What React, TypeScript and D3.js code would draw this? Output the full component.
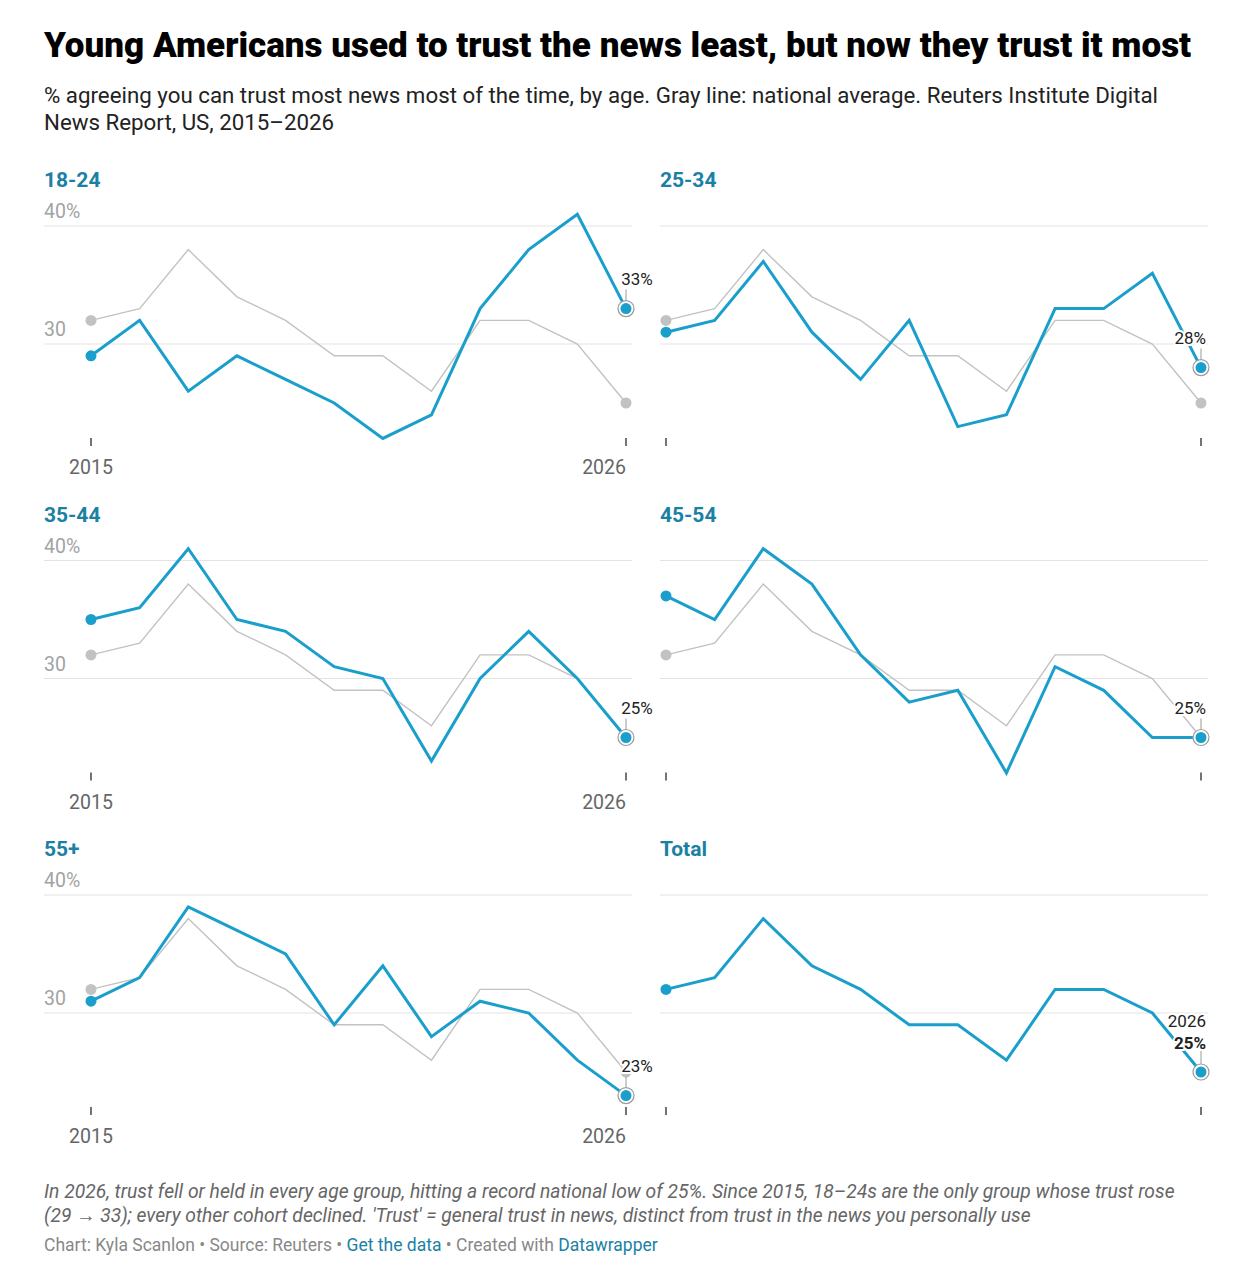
import React from "react";
import * as d3 from "d3";

const years = [2015, 2016, 2017, 2018, 2019, 2020, 2021, 2022, 2023, 2024, 2025, 2026];
const national = [32, 33, 38, 34, 32, 29, 29, 26, 32, 32, 30, 25];
const age18_24 = [29, 32, 26, 29, 27, 25, 22, 24, 33, 38, 41, 33];
const age25_34 = [31, 32, 37, 31, 27, 32, 23, 24, 33, 33, 36, 28];
const age35_44 = [35, 36, 41, 35, 34, 31, 30, 23, 30, 34, 30, 25];
const age45_54 = [37, 35, 41, 38, 32, 28, 29, 22, 31, 29, 25, 25];
const age55plus = [31, 33, 39, 37, 35, 29, 34, 28, 31, 30, 26, 23];
const totalSeries = [32, 33, 38, 34, 32, 29, 29, 26, 32, 32, 30, 25];
const panelNames = ["18-24", "25-34", "35-44", "45-54", "55+", "Total"];
const panelSeries = [age18_24, age25_34, age35_44, age45_54, age55plus, totalSeries];
const yTicks = [40, 30];

const BLUE = "#1a9fcc";
const TITLE_BLUE = "#1a81a5";
const GRAY = "#c2c2c2";
const FONT = "Roboto, 'Noto Sans', sans-serif";

const cols = [
  { gx0: 44, gx1: 632, px0: 91, px1: 626 },
  { gx0: 660, gx1: 1208, px0: 666, px1: 1201 },
];

const y = d3.scaleLinear().domain([30, 40]).range([118, 0]);

function Panel({ idx }: { idx: number }) {
  const col = idx % 2;
  const row = Math.floor(idx / 2);
  const c = cols[col];
  const top = 226 + row * 334.5;
  const x = d3.scaleLinear().domain([2015, 2026]).range([c.px0, c.px1]);
  const series = panelSeries[idx];
  const isTotal = panelNames[idx] === "Total";
  const line = d3
    .line<number>()
    .x((_, i) => x(years[i]))
    .y((v) => y(v));
  const last = series.length - 1;
  const lx = x(years[last]);
  const ly = y(series[last]);
  const halo = { paintOrder: "stroke" as const, stroke: "#fff", strokeWidth: 4, strokeLinejoin: "round" as const };
  return (
    <g transform={`translate(0,${top})`}>
      <text x={c.gx0} y={-39} fontSize={21} fontWeight={700} fill={TITLE_BLUE}>
        {panelNames[idx]}
      </text>
      {yTicks.map((t) => (
        <g key={t}>
          <line x1={c.gx0} x2={c.gx1} y1={y(t)} y2={y(t)} stroke="#e3e3e3" strokeWidth={1} />
          {col === 0 && (
            <text x={c.gx0} y={y(t) - 8} fontSize={19.5} fill="#a3a3a3">
              {t === 40 ? "40%" : String(t)}
            </text>
          )}
        </g>
      ))}
      {[2015, 2026].map((yr, k) => (
        <g key={yr}>
          <line x1={x(yr)} x2={x(yr)} y1={212} y2={220} stroke="#444" strokeWidth={1.5} />
          {col === 0 && (
            <text x={x(yr)} y={248} fontSize={19.5} fill="#666" textAnchor={k === 0 ? "middle" : "end"}>
              {yr}
            </text>
          )}
        </g>
      ))}
      {!isTotal && (
        <g>
          <path d={line(national) || ""} fill="none" stroke={GRAY} strokeWidth={1.4} />
          <circle cx={x(years[0])} cy={y(national[0])} r={5.5} fill={GRAY} />
          <circle cx={x(years[last])} cy={y(national[last])} r={5.5} fill={GRAY} />
        </g>
      )}
      <path d={line(series) || ""} fill="none" stroke={BLUE} strokeWidth={3} strokeLinejoin="miter" />
      <circle cx={x(years[0])} cy={y(series[0])} r={5.5} fill={BLUE} />
      <circle cx={lx} cy={ly} r={8} fill="#fff" stroke="#9a9a9a" strokeWidth={1.2} />
      <line x1={lx} x2={lx} y1={ly - (isTotal ? 21 : 19)} y2={ly - 8} stroke="#aaa" strokeWidth={1.2} />
      <circle cx={lx} cy={ly} r={5.5} fill={BLUE} />
      {isTotal ? (
        <g>
          <text x={lx + 5} y={ly - 45} fontSize={17} fill="#222" textAnchor="end" style={halo}>
            {years[last]}
          </text>
          <text x={lx + 5} y={ly - 23} fontSize={17} fontWeight={700} fill="#222" textAnchor="end" style={halo}>
            {series[last]}%
          </text>
        </g>
      ) : (
        <text
          x={col === 0 ? lx + 11 : lx + 5}
          y={ly - 24}
          fontSize={17}
          fill="#222"
          textAnchor={col === 0 ? "middle" : "end"}
          style={halo}
        >
          {series[last]}%
        </text>
      )}
    </g>
  );
}

export default function App() {
  return (
    <svg
      width={1248}
      height={1286}
      style={{ position: "absolute", left: 0, top: 0, background: "#fff" }}
      fontFamily={FONT}
    >
      <rect width={1248} height={1286} fill="#fff" />
      <text x={44} y={57} fontSize={35} fontWeight={900} fill="#000">
        Young Americans used to trust the news least, but now they trust it most
      </text>
      <text x={44} y={103} fontSize={22.3} fill="#222">
        % agreeing you can trust most news most of the time, by age. Gray line: national average. Reuters Institute Digital
      </text>
      <text x={44} y={130} fontSize={22.3} fill="#222">
        News Report, US, 2015–2026
      </text>
      {panelNames.map((_, i) => (
        <Panel key={i} idx={i} />
      ))}
      <text x={44} y={1198} fontSize={19.3} fontStyle="italic" fill="#666">
        In 2026, trust fell or held in every age group, hitting a record national low of 25%. Since 2015, 18–24s are the only group whose trust rose
      </text>
      <text x={44} y={1222} fontSize={19.3} fontStyle="italic" fill="#666">
        (29 → 33); every other cohort declined. 'Trust' = general trust in news, distinct from trust in the news you personally use
      </text>
      <text x={44} y={1251} fontSize={17.5} fill="#888">
        Chart: Kyla Scanlon • Source: Reuters • <tspan fill="#1a81a5">Get the data</tspan> • Created with{" "}
        <tspan fill="#1a81a5">Datawrapper</tspan>
      </text>
    </svg>
  );
}
